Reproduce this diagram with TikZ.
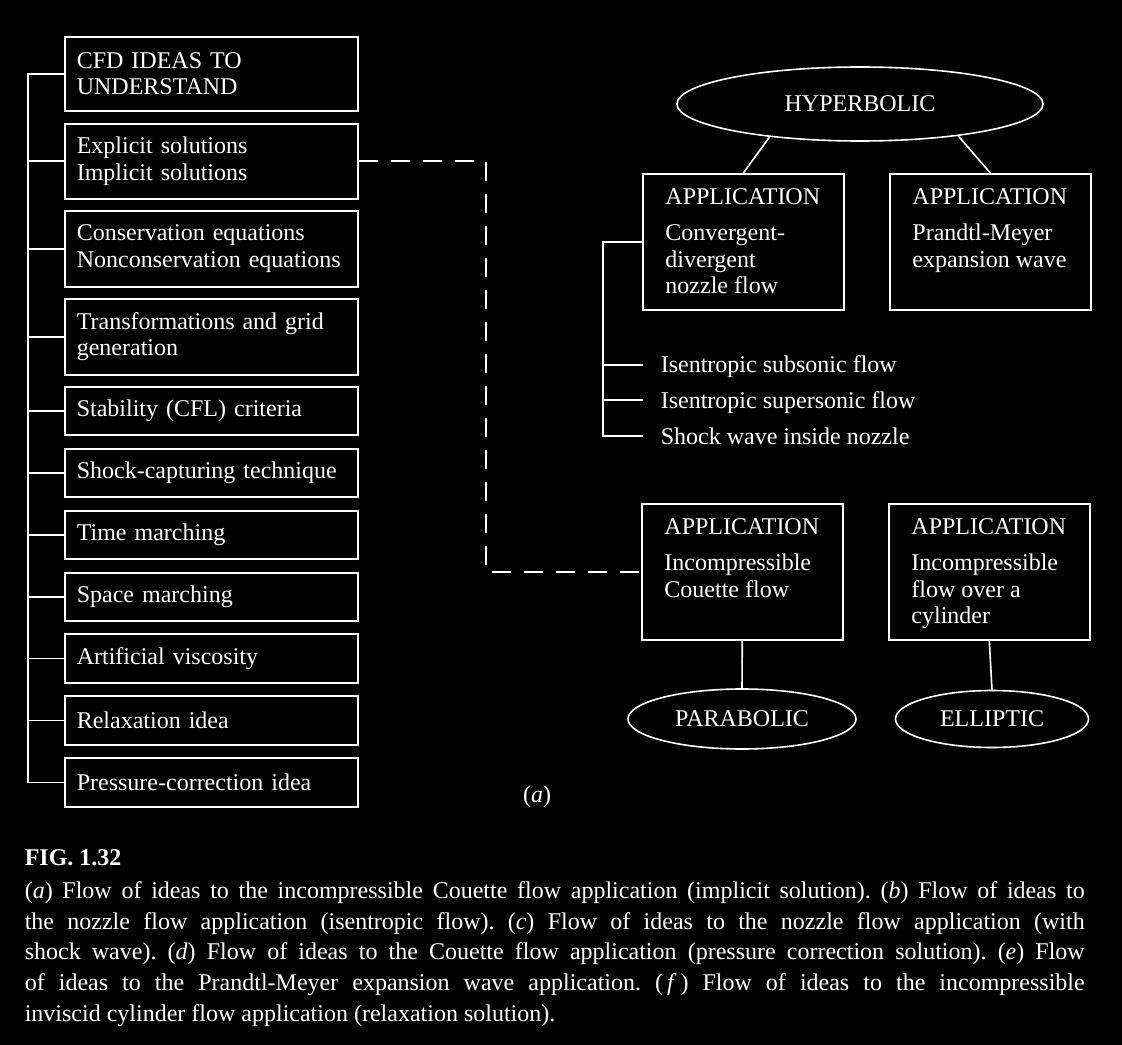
\documentclass[tikz,border=0pt]{standalone}
\usepackage{fontspec}
\setmainfont{Liberation Serif}
\usetikzlibrary{shapes.geometric}
\frenchspacing

\begin{document}
\begin{tikzpicture}[x=0.75pt,y=0.75pt,yscale=-1,xscale=1,
  color=white, line width=1.2pt,
  every node/.style={font=\fontsize{18}{20}\selectfont, text=white},
  ideabox/.style={draw, anchor=north west, text width=202pt, inner xsep=9pt, inner ysep=0pt, align=left},
  appbox/.style={draw, anchor=north west, inner xsep=17pt, inner ysep=11pt,
    execute at begin node={\begin{minipage}[c][80pt][t]{116.75pt}\raggedright},
    execute at end node={\end{minipage}}},
  classell/.style={draw, ellipse, inner sep=0pt},
  flowitem/.style={anchor=west, inner xsep=12.75pt, inner ysep=0pt, text height=12pt, text depth=0pt},
  dashline/.style={dash pattern=on 14pt off 10pt}
]
%set diagram to 1122 x 1045, black page
\useasboundingbox (0,0) rectangle (1122,1045);
\fill [black] (0,0) rectangle (1122,1045);

%Left column: CFD ideas
\node (cfd) [ideabox, minimum height=55.5pt] at (64,36) {CFD IDEAS TO\\UNDERSTAND};
\node (expl) [ideabox, minimum height=56.25pt] at (64,123) {Explicit solutions\\Implicit solutions};
\node (cons) [ideabox, minimum height=57pt] at (64,210) {Conservation equations\\Nonconservation equations};
\node (trans) [ideabox, minimum height=57pt] at (64,298) {Transformations and grid\\generation};
\node (stab) [ideabox, minimum height=36pt] at (64,386) {Stability (CFL) criteria};
\node (shock) [ideabox, minimum height=36pt] at (64,448) {Shock-capturing technique};
\node (time) [ideabox, minimum height=36pt] at (64,510) {Time marching};
\node (space) [ideabox, minimum height=36pt] at (64,572) {Space marching};
\node (visc) [ideabox, minimum height=36.75pt] at (64,633) {Artificial viscosity};
\node (relax) [ideabox, minimum height=36.75pt] at (64,695) {Relaxation idea};
\node (pres) [ideabox, minimum height=36.75pt] at (64,757) {Pressure-correction idea};

%Spine of the left column
\draw (cfd.west) -- ++(-36,0) |- (pres.west);
\draw (expl.west) -- ++(-36,0);
\draw (cons.west) -- ++(-36,0);
\draw (trans.west) -- ++(-36,0);
\draw (stab.west) -- ++(-36,0);
\draw (shock.west) -- ++(-36,0);
\draw (time.west) -- ++(-36,0);
\draw (space.west) -- ++(-36,0);
\draw (visc.west) -- ++(-36,0);
\draw (relax.west) -- ++(-36,0);

%Hyperbolic branch
\node (hyper) [classell, minimum width=274.5pt, minimum height=55.5pt] at (860,104) {HYPERBOLIC};
\node (nozzle) [appbox] at (642,173) {APPLICATION\\[7pt]Convergent-\\divergent\\nozzle flow};
\node (prandtl) [appbox] at (889,173) {APPLICATION\\[7pt]Prandtl-Meyer\\expansion wave};
\draw (hyper.200.8) -- (nozzle.north);
\draw (hyper.342) -- (prandtl.north);

%Nozzle flow cases
\node (subsonic) [flowitem] at (643,365) {Isentropic subsonic flow};
\node (supersonic) [flowitem] at (643,400) {Isentropic supersonic flow};
\node (noshock) [flowitem] at (643,436) {Shock wave inside nozzle};
\draw (nozzle.west) -- ++(-39,0) |- (noshock.west);
\draw (subsonic.west) -- ++(-40,0);
\draw (supersonic.west) -- ++(-40,0);

%Parabolic and elliptic branches
\node (couette) [appbox] at (641,503) {APPLICATION\\[7pt]Incompressible\\Couette flow};
\node (cylinder) [appbox] at (888,503) {APPLICATION\\[7pt]Incompressible\\flow over a\\cylinder};
\node (parab) [classell, minimum width=171pt, minimum height=45pt] at (742,719) {PARABOLIC};
\node (ellip) [classell, minimum width=144.75pt, minimum height=42.75pt] at (992,719) {ELLIPTIC};
\draw (couette.south) -- (parab.north);
\draw (cylinder.south) -- (ellip.north);

%Dashed path of ideas (a)
\draw [dashline] (expl.east) -- ++(127,0) |- (couette.west);

% Text Node
\node (sublabel) at (537,797) {(\textit{a})};
% Text Node
\node (caption) [anchor=north west, inner sep=0pt, text width=795pt, align=justify, font=\fontsize{18}{22.9}\selectfont] at (24,849) {\textbf{FIG.\ 1.32}\\[2pt]
(\textit{a}) Flow of ideas to the incompressible Couette flow application (implicit solution). (\textit{b}) Flow of ideas to\linebreak
the nozzle flow application (isentropic flow). (\textit{c}) Flow of ideas to the nozzle flow application (with\linebreak
shock wave). (\textit{d}) Flow of ideas to the Couette flow application (pressure correction solution). (\textit{e}) Flow\linebreak
of ideas to the Prandtl-Meyer expansion wave application. (\,\textit{f}\,) Flow of ideas to the incompressible\linebreak
inviscid cylinder flow application (relaxation solution).};

\end{tikzpicture}
\end{document}
